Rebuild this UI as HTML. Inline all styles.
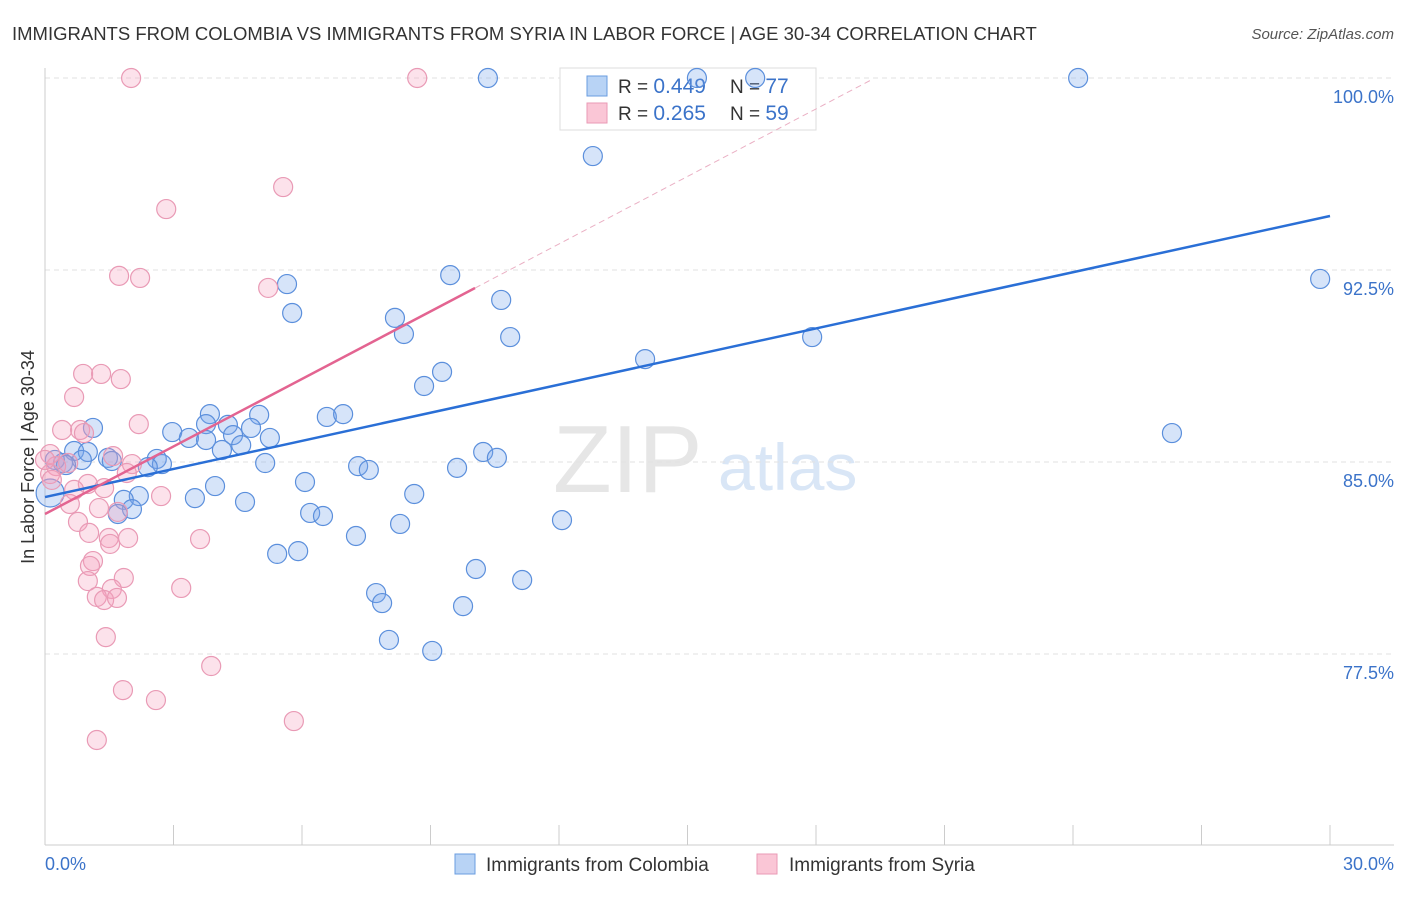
<!DOCTYPE html>
<html><head><meta charset="utf-8"><style>
body{margin:0;background:#fff;font-family:"Liberation Sans",sans-serif}
svg text{font-family:"Liberation Sans",sans-serif}
</style></head><body>
<svg id="chart" width="1406" height="892" xmlns="http://www.w3.org/2000/svg">
<text x="12" y="40" font-size="18.5" fill="#333">IMMIGRANTS FROM COLOMBIA VS IMMIGRANTS FROM SYRIA IN LABOR FORCE | AGE 30-34 CORRELATION CHART</text>
<text x="1394" y="39" font-size="15" fill="#555" font-style="italic" text-anchor="end">Source: ZipAtlas.com</text>
<g>
<text x="553" y="492" font-size="96" fill="#e6e6e6" font-family="Liberation Serif">ZIP</text>
<text x="718" y="490" font-size="66" fill="#d9e6f6">atlas</text>
</g>
<g id="grid"></g>
<g id="axes"></g>
<g>
<rect x="560" y="68" width="256" height="62" fill="#fff" stroke="#ddd"/>
<rect x="587" y="76" width="20" height="20" fill="#b8d3f5" stroke="#6a9de0"/>
<rect x="587" y="103" width="20" height="20" fill="#fac6d6" stroke="#ea9ab5"/>
<text x="618" y="93" font-size="19" fill="#333">R = <tspan fill="#3b73c9" font-size="21">0.449</tspan></text>
<text x="730" y="93" font-size="19" fill="#333">N = <tspan fill="#3b73c9" font-size="21">77</tspan></text>
<text x="618" y="120" font-size="19" fill="#333">R = <tspan fill="#3b73c9" font-size="21"> 0.265</tspan></text>
<text x="730" y="120" font-size="19" fill="#333">N = <tspan fill="#3b73c9" font-size="21">59</tspan></text>
</g>
<g id="marks"></g>
<g id="trends"></g>
<text transform="translate(34,457) rotate(-90)" font-size="18" fill="#333" text-anchor="middle">In Labor Force | Age 30-34</text>
<text x="45" y="870" font-size="18" fill="#3b73c9">0.0%</text>
<text x="1394" y="870" font-size="18" fill="#3b73c9" text-anchor="end">30.0%</text>
<g>
<rect x="455" y="854" width="20" height="20" fill="#b8d3f5" stroke="#6a9de0"/>
<text x="486" y="871" font-size="19" fill="#333">Immigrants from Colombia</text>
<rect x="757" y="854" width="20" height="20" fill="#fac6d6" stroke="#ea9ab5"/>
<text x="789" y="871" font-size="19" fill="#333">Immigrants from Syria</text>
</g>
</svg>
<script>
const yTicks=[100,92.5,85,77.5];
const yTickLabels=["100.0%","92.5%","85.0%","77.5%"];
const xTicks=[0,3,6,9,12,15,18,21,24,27,30];
const colombiaX=[10.34,16.58,24.12,12.79,29.77,9.46,5.65,10.65,5.77,8.17,8.38,10.86,17.91,14.01,9.27,8.85,3.85,5.00,6.58,6.96,3.76,1.12,4.27,2.97,3.36,4.81,4.39,5.25,3.76,4.58,4.13,10.23,26.31,0.68,1.00,1.47,1.56,2.61,10.55,2.73,2.40,0.42,0.86,5.14,7.31,7.56,9.62,3.97,6.07,2.19,1.84,3.50,4.67,8.62,2.03,1.70,6.19,6.49,12.07,8.29,7.26,5.42,5.91,10.06,7.73,7.87,9.76,11.14,8.03,9.04,0.12,0.23,0.49,15.22];
const colombiaY=[100,100,100,96.95,92.15,92.30,91.95,91.33,90.82,90.63,90.0,89.88,89.88,89.02,88.52,87.97,86.87,86.84,86.76,86.87,86.48,86.33,86.45,86.17,85.94,86.33,86.05,85.94,85.86,85.66,85.47,85.39,86.13,85.43,85.39,85.16,85.04,85.12,85.16,84.92,84.80,84.96,85.08,84.96,84.84,84.69,84.77,84.06,84.22,83.67,83.52,83.59,83.44,83.75,83.16,82.97,83.01,82.89,82.73,82.58,82.11,81.41,81.52,80.82,79.88,79.49,79.37,80.39,78.05,77.62,83.79,85.08,84.88,100];
const syriaX=[2.01,8.69,5.56,2.83,1.73,2.22,5.21,0.89,1.31,1.77,0.68,2.19,0.40,0.82,0.91,1.59,0.12,0.26,0.54,2.03,1.91,1.00,1.38,0.68,2.71,0.58,1.26,1.70,0.77,1.03,1.49,1.94,3.62,1.52,1.12,1.05,1.84,1.00,1.56,3.18,1.21,1.38,1.68,1.42,3.88,1.82,2.59,5.81,1.21,0.12,0.16,0.0];
const syriaY=[100,100,95.74,94.88,92.27,92.19,91.80,88.44,88.44,88.24,87.54,86.48,86.25,86.25,86.13,85.23,85.31,84.84,84.96,84.92,84.57,84.14,83.98,83.91,83.67,83.36,83.20,83.05,82.66,82.23,82.03,82.03,81.99,81.80,81.13,80.94,80.47,80.35,80.04,80.08,79.73,79.61,79.69,78.16,77.03,76.09,75.70,74.88,74.14,84.53,84.30,85.08];
const colombiaTrend=[83.63,94.61];
const syriaTrend=[82.97,0.879];
const syriaSolidEnd=10.04, syriaDashEnd=19.26;
const NS="http://www.w3.org/2000/svg";
const X=v=>45+v*(1285/30);
const Y=v=>78+(100-v)*(192/7.5);
function mk(tag,attrs,parent){const e=document.createElementNS(NS,tag);for(const k in attrs)e.setAttribute(k,attrs[k]);parent.appendChild(e);return e;}
const grid=document.getElementById('grid'),axes=document.getElementById('axes'),marks=document.getElementById('marks'),trends=document.getElementById('trends');
yTicks.forEach((t,i)=>{
 const l=mk('line',{x1:45,x2:1394,y1:Y(t),y2:Y(t),stroke:'#e2e2e2','stroke-dasharray':'5,4'},grid);
 
 
 const tx=mk('text',{x:1394,y:Y(t)+25,'font-size':18,fill:'#3b73c9','text-anchor':'end'},grid);
 tx.textContent=yTickLabels[i];
 
 
});
const ax=mk('line',{x1:45,x2:1394,y1:845,y2:845,stroke:'#ccc'},axes);


const ay=mk('line',{x1:45,x2:45,y1:68,y2:845,stroke:'#ccc'},axes);


xTicks.forEach(t=>{
 const l=mk('line',{x1:X(t),x2:X(t),y1:825,y2:845,stroke:'#ccc'},axes);
 
 
});
colombiaX.forEach((v,i)=>{
 const c=mk('circle',{cx:X(v),cy:Y(colombiaY[i]),r:i==70?14:9.5,fill:'rgba(120,165,235,0.3)',stroke:'#5b8fdc','stroke-width':1.2},marks);
 
 
});
syriaX.forEach((v,i)=>{
 const c=mk('circle',{cx:X(v),cy:Y(syriaY[i]),r:9.5,fill:'rgba(245,160,190,0.3)',stroke:'#e99ab5','stroke-width':1.2},marks);
 
 
});
const bt=mk('line',{x1:X(0),y1:Y(colombiaTrend[0]),x2:X(30),y2:Y(colombiaTrend[1]),stroke:'#2a6fd6','stroke-width':2.5},trends);


const st=mk('line',{x1:X(0),y1:Y(syriaTrend[0]),x2:X(syriaSolidEnd),y2:Y(syriaTrend[0]+syriaTrend[1]*syriaSolidEnd),stroke:'#e36491','stroke-width':2.5},trends);


const sd=mk('line',{x1:X(syriaSolidEnd),y1:Y(syriaTrend[0]+syriaTrend[1]*syriaSolidEnd),x2:X(syriaDashEnd),y2:Y(syriaTrend[0]+syriaTrend[1]*syriaDashEnd),stroke:'#eab0c4','stroke-width':1,'stroke-dasharray':'6,4'},trends);


</script>
</body></html>
